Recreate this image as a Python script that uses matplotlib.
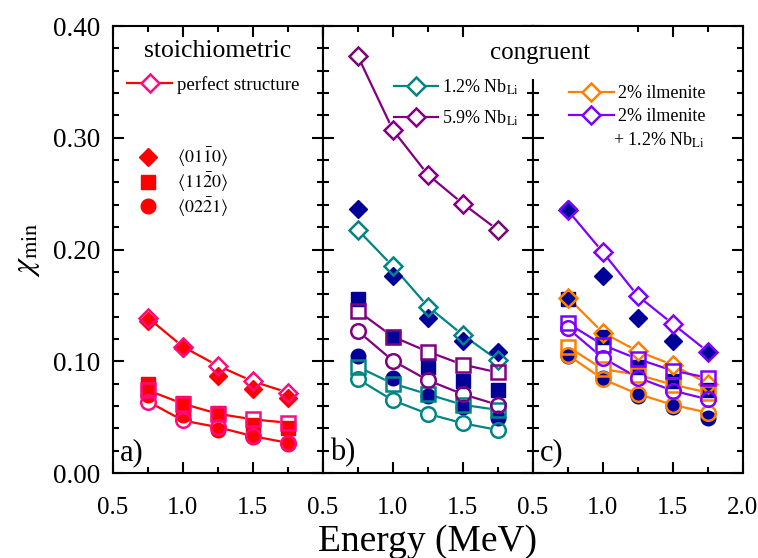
import matplotlib
matplotlib.use("Agg")
import matplotlib.pyplot as plt
from matplotlib.lines import Line2D
from matplotlib.ticker import MultipleLocator, FixedFormatter, FixedLocator

plt.rcParams['font.family'] = ['Liberation Serif', 'DejaVu Serif']
plt.rcParams['mathtext.fontset'] = 'stix'

# --- data: minimum yield vs beam energy ---
energy = [0.75, 1.0, 1.25, 1.5, 1.75]

# stoichiometric crystal: measured (filled) and perfect-structure simulation (open)
stoich_0110 = [0.136, 0.112, 0.087, 0.075, 0.067]
stoich_1120 = [0.080, 0.063, 0.054, 0.043, 0.040]
stoich_0221 = [0.070, 0.052, 0.0385, 0.032, 0.026]
perfect_0110 = [0.139, 0.113, 0.096, 0.082, 0.072]
perfect_1120 = [0.074, 0.062, 0.053, 0.048, 0.045]
perfect_0221 = [0.064, 0.047, 0.041, 0.033, 0.027]

# congruent crystal: measured
cong_0110 = [0.236, 0.176, 0.1385, 0.118, 0.108]
cong_1120 = [0.156, 0.122, 0.095, 0.082, 0.074]
cong_0221 = [0.105, 0.085, 0.069, 0.059, 0.049]

# congruent crystal: simulations
nb12_0110 = [0.2175, 0.185, 0.149, 0.1235, 0.101]
nb12_1120 = [0.095, 0.080, 0.0705, 0.061, 0.0565]
nb12_0221 = [0.084, 0.065, 0.053, 0.0445, 0.0385]
nb59_0110 = [0.373, 0.307, 0.267, 0.241, 0.2175]
nb59_1120 = [0.145, 0.122, 0.1086, 0.097, 0.090]
nb59_0221 = [0.127, 0.1005, 0.083, 0.0705, 0.061]
ilm_0110 = [0.157, 0.1256, 0.109, 0.0967, 0.080]
ilm_1120 = [0.113, 0.093, 0.088, 0.079, 0.072]
ilm_0221 = [0.1056, 0.084, 0.0707, 0.061, 0.054]
ilmnb_0110 = [0.235, 0.1976, 0.1585, 0.1334, 0.1086]
ilmnb_1120 = [0.134, 0.1146, 0.102, 0.0916, 0.0853]
ilmnb_0221 = [0.1295, 0.103, 0.0853, 0.0737, 0.066]

axis_labels = [r'$\langle 01\bar{1}0\rangle$', r'$\langle 11\bar{2}0\rangle$', r'$\langle 02\bar{2}1\rangle$']

RED = '#ff0000'
PINK = '#ff0a80'
NAVY = '#000099'
TEAL = '#008585'
PURPLE = '#800080'
ORANGE = '#ff8000'
VIOLET = '#8000ff'

MARKERS = ['D', 's', 'o']
SIZES = {'D': 9, 's': 9.5, 'o': 10.5}


def plot_measured(ax, series, color):
    for y, m in zip(series, MARKERS):
        ax.plot(energy, y, linestyle='none', marker=m, ms=SIZES[m],
                color=color, mec=color, zorder=3)


def plot_simulated(ax, series, line_color, edge_color):
    for y, m in zip(series, MARKERS):
        # line first, then white blanking under markers, then hollow edges on top
        ax.plot(energy, y, color=line_color, lw=1.6, zorder=1)
        ax.plot(energy, y, linestyle='none', marker=m, ms=SIZES[m],
                mfc='white', mec='white', mew=1.6, zorder=2)
        ax.plot(energy, y, linestyle='none', marker=m, ms=SIZES[m],
                mfc='none', mec=edge_color, mew=1.8, zorder=4)


def style_axis(ax, show_last):
    ax.set_xlim(0.5, 2.0)
    ax.set_ylim(0.0, 0.40)
    ax.xaxis.set_major_locator(FixedLocator([0.5, 1.0, 1.5, 2.0]))
    labels = ['0.5', '1.0', '1.5', '2.0' if show_last else '']
    ax.xaxis.set_major_formatter(FixedFormatter(labels))
    ax.xaxis.set_minor_locator(MultipleLocator(0.25))
    ax.yaxis.set_major_locator(MultipleLocator(0.1))
    ax.yaxis.set_minor_locator(MultipleLocator(0.02))
    ax.tick_params(which='both', direction='in', top=True, right=True, width=1.5)
    ax.tick_params(which='major', length=8)
    ax.tick_params(which='minor', length=4.5)
    ax.tick_params(axis='x', labelsize=18, pad=17)
    ax.tick_params(axis='y', labelsize=19.5, pad=9)
    for s in ax.spines.values():
        s.set_linewidth(1.5)


fig = plt.figure(figsize=(7.58, 5.58), dpi=100)
left, bottom, width, height = 0.149, 0.1523, 0.277, 0.801
ax_a = fig.add_axes([left, bottom, width, height])
ax_b = fig.add_axes([left + width, bottom, width, height], sharey=ax_a)
ax_c = fig.add_axes([left + 2 * width, bottom, width, height], sharey=ax_a)

style_axis(ax_a, False)
style_axis(ax_b, False)
style_axis(ax_c, True)
ax_a.yaxis.set_major_formatter(plt.FuncFormatter(lambda v, p: f'{v:.2f}'))
ax_b.tick_params(labelleft=False)
ax_c.tick_params(labelleft=False)

# panel a: stoichiometric
plot_measured(ax_a, [stoich_0110, stoich_1120, stoich_0221], RED)
plot_simulated(ax_a, [perfect_0110, perfect_1120, perfect_0221], RED, PINK)

# panel b: congruent with Nb antisites
plot_measured(ax_b, [cong_0110, cong_1120, cong_0221], NAVY)
plot_simulated(ax_b, [nb12_0110, nb12_1120, nb12_0221], TEAL, TEAL)
plot_simulated(ax_b, [nb59_0110, nb59_1120, nb59_0221], PURPLE, PURPLE)

# panel c: congruent with ilmenite stacking
plot_measured(ax_c, [cong_0110, cong_1120, cong_0221], NAVY)
plot_simulated(ax_c, [ilm_0110, ilm_1120, ilm_0221], ORANGE, ORANGE)
plot_simulated(ax_c, [ilmnb_0110, ilmnb_1120, ilmnb_0221], VIOLET, VIOLET)


def sim_handle(line_color, edge_color):
    return Line2D([], [], color=line_color, lw=1.6, marker='D', ms=9,
                  mfc='white', mec=edge_color, mew=1.8)


# legends
leg = ax_a.legend([sim_handle(RED, PINK)], ['perfect structure'], loc='center left',
                  bbox_to_anchor=(0.067, 0.868), frameon=False, fontsize=13.5,
                  handlelength=2.4, handletextpad=0.27, borderpad=0, borderaxespad=0)
ax_a.add_artist(leg)
dir_handles = [Line2D([], [], linestyle='none', marker=m, ms=SIZES[m], color=RED)
               for m in MARKERS]
ax_a.legend(dir_handles, axis_labels, loc='upper left', bbox_to_anchor=(0.125, 0.731),
            frameon=False, fontsize=13, handlelength=1.0, handletextpad=1.1,
            labelspacing=0.08, borderpad=0, borderaxespad=0)

ax_b.legend([sim_handle(TEAL, TEAL), sim_handle(PURPLE, PURPLE)],
            [r'1.2% Nb$_{\rm Li}$', r'5.9% Nb$_{\rm Li}$'],
            loc='upper left', bbox_to_anchor=(0.338, 0.885), frameon=False, fontsize=13,
            handlelength=2.45, handletextpad=0.2, labelspacing=0.65,
            borderpad=0, borderaxespad=0)

ax_c.legend([sim_handle(ORANGE, ORANGE), sim_handle(VIOLET, VIOLET)],
            ['2% ilmenite', '2% ilmenite'],
            loc='upper left', bbox_to_anchor=(0.171, 0.868), frameon=False, fontsize=13,
            handlelength=2.5, handletextpad=0.2, labelspacing=0.35,
            borderpad=0, borderaxespad=0)
ax_c.text(0.38, 0.765, r'+ 1.2% Nb$_{\rm Li}$', transform=ax_c.transAxes,
          fontsize=13, va='top', ha='left')

# titles and panel tags; the congruent title sits on a white patch over the b|c divider
ax_a.text(0.5, 0.945, 'stoichiometric', transform=ax_a.transAxes, fontsize=18.5,
          ha='center', va='center')
fig.text(0.712, 0.905, 'congruent', fontsize=18, ha='center', va='center',
         bbox=dict(facecolor='white', edgecolor='none', pad=11))
for ax, tag in zip([ax_a, ax_b, ax_c], ['a)', 'b)', 'c)']):
    ax.text(0.035, 0.012, tag, transform=ax.transAxes, fontsize=22,
            ha='left', va='bottom')

ax_a.set_ylabel(r'$\chi_{\rm min}$', fontsize=23, labelpad=8)
fig.text(left + 1.5 * width, 0.03, 'Energy (MeV)', fontsize=27, ha='center', va='center')

fig.savefig('out.png', dpi=100)
